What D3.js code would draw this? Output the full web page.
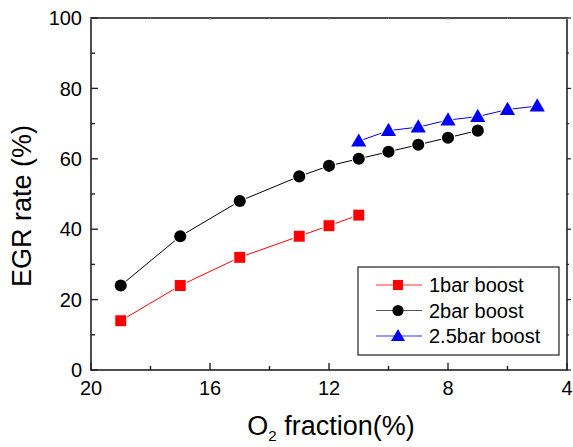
<!DOCTYPE html>
<html><head><meta charset="utf-8">
<script src="https://cdn.jsdelivr.net/npm/d3@7"></script>
<style>body{margin:0;background:#fff}svg{display:block}text{font-family:Arial,"Liberation Sans",sans-serif}</style>
</head><body>
<script>
const xBar1 = [19, 17, 15, 13, 12, 11];
const yBar1 = [14, 24, 32, 38, 41, 44];
const xBar2 = [19, 17, 15, 13, 12, 11, 10, 9, 8, 7];
const yBar2 = [24, 38, 48, 55, 58, 60, 62, 64, 66, 68];
const xBar25 = [11, 10, 9, 8, 7, 6, 5];
const yBar25 = [65, 68, 69, 71, 72, 74, 75];
const seriesNames = ["1bar boost", "2bar boost", "2.5bar boost"];
const xTicks = [20, 16, 12, 8, 4];
const yTicks = [0, 20, 40, 60, 80, 100];

const W = 573, H = 447;
const L = 91, R = 567, T = 18, B = 370;
const svg = d3.select("body").append("svg").attr("width", W).attr("height", H);
const x = d3.scaleLinear().domain([20, 4]).range([L, R]);
const y = d3.scaleLinear().domain([0, 100]).range([B, T]);

const series = [
  {name: seriesNames[0], xs: xBar1, ys: yBar1, color: "#ff0000", lcolor: "#ff0000", sym: d3.symbolSquare, size: 120},
  {name: seriesNames[1], xs: xBar2, ys: yBar2, color: "#000000", lcolor: "#000000", sym: d3.symbolCircle, size: 115},
  {name: seriesNames[2], xs: xBar25, ys: yBar25, color: "#0000ff", lcolor: "#0000ff", sym: d3.symbolTriangle, size: 100}
];

const ax = svg.append("g").attr("stroke", "#222").attr("fill", "none");
ax.append("rect").attr("x", L).attr("y", T).attr("width", R - L).attr("height", B - T).attr("stroke-width", 1.6);

const xMinor = d3.range(20, 3, -2);
xMinor.forEach(v => {
  const major = xTicks.includes(v);
  ax.append("line").attr("x1", x(v)).attr("x2", x(v)).attr("y1", B).attr("y2", B - (major ? 7 : 4)).attr("stroke-width", 1.4);
  ax.append("line").attr("x1", x(v)).attr("x2", x(v)).attr("y1", T).attr("y2", T + (major ? 2 : 1)).attr("stroke-width", 1).attr("stroke", "#999");
});
const yMinor = d3.range(0, 101, 10);
yMinor.forEach(v => {
  const major = yTicks.includes(v);
  ax.append("line").attr("y1", y(v)).attr("y2", y(v)).attr("x1", L).attr("x2", L + (major ? 7 : 4)).attr("stroke-width", 1.4);
  ax.append("line").attr("y1", y(v)).attr("y2", y(v)).attr("x1", R).attr("x2", R + (major ? 4 : 2)).attr("stroke-width", 1.2);
});

svg.append("g").selectAll("text").data(xTicks).join("text")
  .attr("x", d => x(d)).attr("y", 395).attr("text-anchor", "middle")
  .attr("font-size", 20).attr("fill", "#000").text(d => d);
svg.append("g").selectAll("text").data(yTicks).join("text")
  .attr("x", 82).attr("y", d => y(d)).attr("dy", "0.36em").attr("text-anchor", "end")
  .attr("font-size", 20).attr("fill", "#000").text(d => d);

svg.append("text").attr("transform", "translate(31,206) rotate(-90)").attr("text-anchor", "middle")
  .attr("font-size", 27).attr("fill", "#000").text("EGR rate (%)");
const xt = svg.append("text").attr("x", 331).attr("y", 435).attr("text-anchor", "middle").attr("font-size", 27).attr("fill", "#000");
xt.append("tspan").text("O");
xt.append("tspan").attr("font-size", 15).attr("dy", 6).text("2");
xt.append("tspan").attr("dy", -6).text(" fraction(%)");

const line = d3.line();
series.forEach(s => {
  const pts = s.xs.map((v, i) => [x(v), y(s.ys[i])]);
  svg.append("path").attr("d", line(pts)).attr("fill", "none").attr("stroke", s.lcolor).attr("stroke-width", 1);
  svg.append("g").selectAll("path").data(pts).join("path")
    .attr("transform", d => `translate(${d[0]},${d[1] + (s.sym === d3.symbolTriangle ? 1 : 0)})`)
    .attr("d", d3.symbol().type(s.sym).size(s.size))
    .attr("fill", s.color).attr("stroke", "#fff").attr("stroke-width", 2).attr("paint-order", "stroke");
});

const lg = svg.append("g");
lg.append("rect").attr("x", 358).attr("y", 267).attr("width", 201).attr("height", 88)
  .attr("fill", "#fff").attr("stroke", "#222").attr("stroke-width", 1.2);
const legCol = ["#ff3030", "#555", "#3030ff"];
series.forEach((s, i) => {
  const yy = 285 + i * 25.5;
  lg.append("line").attr("x1", 376).attr("x2", 422).attr("y1", yy).attr("y2", yy).attr("stroke", legCol[i]).attr("stroke-width", 1);
  lg.append("path").attr("transform", `translate(398,${yy + (s.sym === d3.symbolTriangle ? 1 : 0)})`)
    .attr("d", d3.symbol().type(s.sym).size(s.size * 0.85)).attr("fill", s.color);
  lg.append("text").attr("x", 429).attr("y", yy).attr("dy", "0.36em").attr("font-size", 20).attr("fill", "#000").text(s.name);
});
</script>
</body></html>
